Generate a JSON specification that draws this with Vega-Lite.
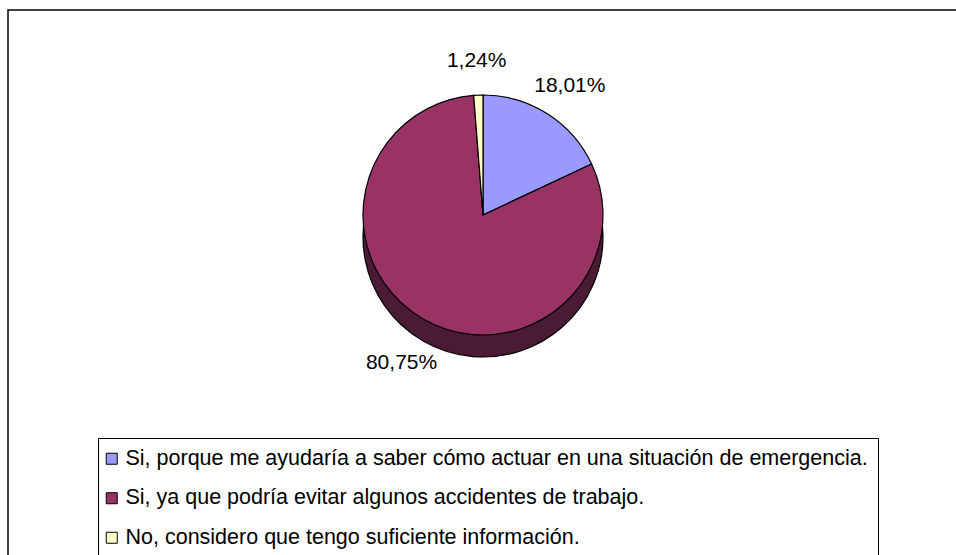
{
  "$schema": "https://vega.github.io/schema/vega-lite/v6.json",
  "width": 950,
  "height": 550,
  "autosize": {"type": "none"},
  "padding": {"left": 8, "top": 10, "right": 0, "bottom": 0},
  "background": "white",
  "datasets": {
    "respuestas": [
      {"respuesta": "Si, porque me ayudaría a saber cómo actuar en una situación de emergencia.", "valor": 0.1801, "orden": 1},
      {"respuesta": "Si, ya que podría evitar algunos accidentes de trabajo.", "valor": 0.8075, "orden": 2},
      {"respuesta": "No, considero que tengo suficiente información.", "valor": 0.0124, "orden": 3}
    ],
    "marco": [{"elemento": "borde"}]
  },
  "layer": [
    {
      "data": {"name": "marco"},
      "mark": {"type": "rect", "fill": null, "fillOpacity": 0, "stroke": "black", "strokeWidth": 1.5},
      "encoding": {}
    },
    {
      "data": {"name": "respuestas"},
      "mark": {"type": "arc", "radius": 120, "yOffset": -48, "fill": "#4B1B35", "stroke": "black", "strokeWidth": 1.2},
      "encoding": {
        "theta": {"field": "valor", "type": "quantitative", "stack": true},
        "order": {"field": "orden", "type": "quantitative"}
      }
    },
    {
      "data": {"name": "respuestas"},
      "mark": {"type": "arc", "radius": 120, "yOffset": -70, "stroke": "black", "strokeWidth": 1.2},
      "encoding": {
        "theta": {"field": "valor", "type": "quantitative", "stack": true},
        "order": {"field": "orden", "type": "quantitative"},
        "color": {
          "field": "respuesta",
          "type": "nominal",
          "scale": {
            "domain": [
              "Si, porque me ayudaría a saber cómo actuar en una situación de emergencia.",
              "Si, ya que podría evitar algunos accidentes de trabajo.",
              "No, considero que tengo suficiente información."
            ],
            "range": ["#9999FF", "#993366", "#FFFFCC"]
          },
          "legend": {
            "title": null,
            "orient": "none",
            "legendX": 90,
            "legendY": 428,
            "direction": "vertical"
          }
        }
      }
    },
    {
      "data": {"name": "respuestas"},
      "mark": {"type": "text", "radius": 162, "yOffset": -62, "font": "Liberation Sans", "fontSize": 21, "color": "black"},
      "encoding": {
        "theta": {"field": "valor", "type": "quantitative", "stack": true},
        "order": {"field": "orden", "type": "quantitative"},
        "text": {"field": "valor", "type": "quantitative", "format": ".2%"}
      }
    }
  ],
  "config": {
    "locale": {"number": {"decimal": ",", "thousands": ".", "grouping": [3], "currency": ["", " €"]}},
    "view": {"stroke": null},
    "legend": {
      "strokeColor": "black",
      "strokeWidth": 1,
      "padding": 10,
      "symbolType": "square",
      "symbolSize": 121,
      "symbolOffset": -7,
      "symbolStrokeColor": "black",
      "symbolStrokeWidth": 1,
      "labelFont": "Liberation Sans",
      "labelFontSize": 21.5,
      "labelColor": "black",
      "labelLimit": 1000,
      "labelOffset": 3,
      "rowPadding": 16.5
    }
  }
}
